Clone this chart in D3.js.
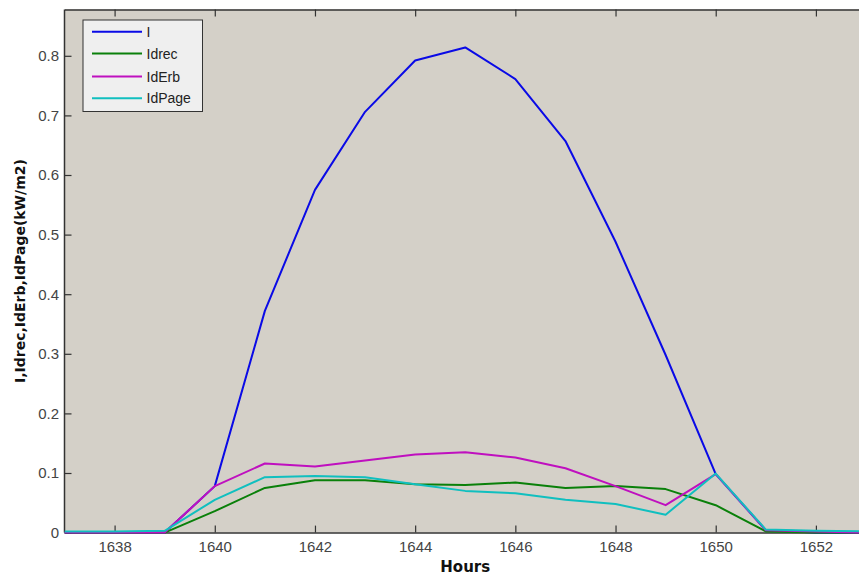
<!DOCTYPE html>
<html><head><meta charset="utf-8">
<script src="https://cdn.jsdelivr.net/npm/d3@7"></script>
<style>
html,body{margin:0;padding:0;background:#fff;overflow:hidden}
svg{display:block}
</style></head><body>
<svg id="c" width="859" height="576"></svg>
<script>
const hours = [1637,1638,1639,1640,1641,1642,1643,1644,1645,1646,1647,1648,1649,1650,1651,1652,1653];
const I       = [0,0,0,0.078,0.372,0.575,0.706,0.792,0.814,0.761,0.657,0.488,0.298,0.098,0.004,0,0];
const Idrec   = [0,0,0,0.036,0.075,0.088,0.088,0.081,0.080,0.084,0.075,0.078,0.073,0.046,0.002,0,0];
const IdErb   = [0,0,0,0.078,0.116,0.111,0.121,0.131,0.135,0.126,0.108,0.078,0.046,0.098,0.004,0.002,0];
const IdPage  = [0.002,0.002,0.003,0.055,0.093,0.095,0.093,0.081,0.070,0.066,0.055,0.048,0.030,0.099,0.005,0.003,0.002];
const seriesNames = ["I","Idrec","IdErb","IdPage"];
const seriesColors = ["#0a0ae6","#0a800a","#bf10bf","#10bfbf"];
const xTicks = [1638,1640,1642,1644,1646,1648,1650,1652];
const yTicks = [0,0.1,0.2,0.3,0.4,0.5,0.6,0.7,0.8];
const xLabel = "Hours";
const yLabel = "I,Idrec,IdErb,IdPage(kW/m2)";

const series = [I, Idrec, IdErb, IdPage];
const svg = d3.select("#c");
const L = 64.5, T = 9.5, B = 532.6, R = 866;
const x = d3.scaleLinear().domain([1637,1653]).range([L,R]);
const y = d3.scaleLinear().domain([0,0.8]).range([B,B-476.8]);

svg.append("rect").attr("x",L).attr("y",T).attr("width",R-L).attr("height",B-T).attr("fill","#d4d0c8");

svg.append("clipPath").attr("id","pc").append("rect")
  .attr("x",L).attr("y",T).attr("width",R-L).attr("height",B-T+2);

const axColor = "#333";
const tickLen = 7;
const xb = d3.axisBottom(x).tickValues(xTicks).tickFormat(d3.format("d")).tickSizeInner(-tickLen).tickSizeOuter(0).tickPadding(8.5);
const gx = svg.append("g").attr("transform",`translate(0,${B})`).call(xb);
const xt = d3.axisTop(x).tickValues(xTicks).tickFormat("").tickSizeInner(-tickLen).tickSizeOuter(0);
const gxt = svg.append("g").attr("transform",`translate(0,${T})`).call(xt);
const yl = d3.axisLeft(y).tickValues(yTicks).tickFormat(d=>d===0?"0":d3.format(".1f")(d)).tickSizeInner(-tickLen).tickSizeOuter(0).tickPadding(5.5);
const gy = svg.append("g").attr("transform",`translate(${L},0)`).call(yl);
const yr = d3.axisRight(y).tickValues(yTicks).tickFormat("").tickSizeInner(-tickLen).tickSizeOuter(0);
const gyr = svg.append("g").attr("transform",`translate(${R},0)`).call(yr);
[gx,gxt,gy,gyr].forEach(a=>{
  a.select(".domain").attr("stroke",axColor).attr("stroke-width",1.5);
  a.selectAll(".tick line").attr("stroke",axColor).attr("stroke-width",1.2);
  a.selectAll("text").attr("fill","#444").attr("font-family","Liberation Sans, Arial, sans-serif").attr("font-size",15);
});
gy.select(".domain").attr("d",`M0,${T}V${B}`);

const line = d3.line().x((d,i)=>x(hours[i])).y(d=>y(d));
const g = svg.append("g").attr("clip-path","url(#pc)");
series.forEach((s,k)=>{
  g.append("path").datum(s).attr("d",line).attr("fill","none")
   .attr("stroke",seriesColors[k]).attr("stroke-width",2).attr("stroke-linejoin","round");
});

svg.append("text").attr("x",(L+R)/2).attr("y",572).attr("text-anchor","middle")
  .attr("font-family","DejaVu Sans, sans-serif").attr("font-weight","bold").attr("font-size",15)
  .attr("fill","#111").text(xLabel);
svg.append("text").attr("transform",`translate(25,${(T+B)/2}) rotate(-90)`).attr("text-anchor","middle")
  .attr("font-family","DejaVu Sans, sans-serif").attr("font-weight","bold").attr("font-size",14)
  .attr("fill","#111").text(yLabel);

// legend
const lg = svg.append("g");
lg.append("rect").attr("x",83).attr("y",20).attr("width",119.5).attr("height",91.5)
  .attr("fill","#efefef").attr("stroke","#333").attr("stroke-width",1);
const rowY = [31.7,53.5,76.5,98.3];
seriesNames.forEach((n,k)=>{
  lg.append("line").attr("x1",92).attr("x2",142).attr("y1",rowY[k]).attr("y2",rowY[k])
    .attr("stroke",seriesColors[k]).attr("stroke-width",2);
  lg.append("text").attr("x",146.5).attr("y",rowY[k]+5).attr("font-family","Liberation Sans, Arial, sans-serif")
    .attr("font-size",14).attr("fill","#222").text(n);
});
</script></body></html>
